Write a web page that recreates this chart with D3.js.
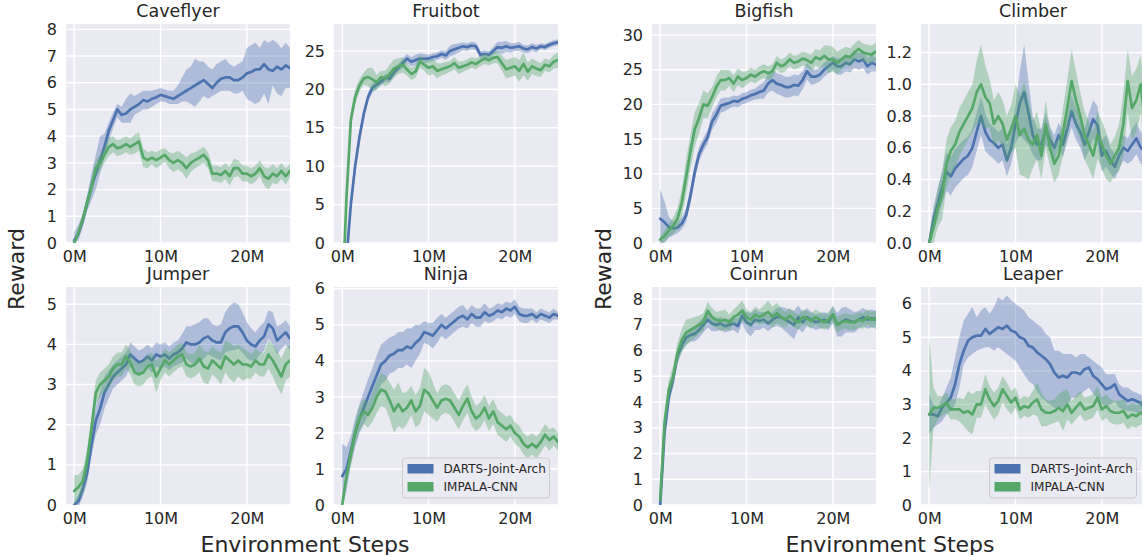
<!DOCTYPE html>
<html><head><meta charset="utf-8">
<script src="https://cdn.jsdelivr.net/npm/d3@7"></script>
<style>body{margin:0;background:#fff;} svg{display:block;font-family:"DejaVu Sans",sans-serif;}</style>
</head><body><svg id="c" width="1142" height="555"></svg>
<script>
// ---------------- DATA ----------------
const steps = [0,0.5,1,1.5,2,2.5,3,3.5,4,4.5,5,5.5,6,6.5,7,7.5,8,8.5,9,9.5,10,10.5,11,11.5,12,12.5,13,13.5,14,14.5,15,15.5,16,16.5,17,17.5,18,18.5,19,19.5,20,20.5,21,21.5,22,22.5,23,23.5,24,24.5,25];
const xTickValues = [0,10,20];
const seriesNames = ["DARTS-Joint-Arch","IMPALA-CNN"];
const envNames = ["Caveflyer","Fruitbot","Bigfish","Climber","Jumper","Ninja","Coinrun","Leaper"];

// Caveflyer
const caveflyerDartsMean = [0.1,0.35,0.85,1.5,2.1,2.6,3.1,3.6,4.2,4.6, 5.0,4.8,4.85,5.0,5.1,5.2,5.35,5.3,5.4,5.45, 5.55,5.5,5.45,5.4,5.5,5.6,5.7,5.8,5.9,6.0, 6.1,5.95,5.8,6.0,6.15,6.2,6.2,6.1,6.1,6.2, 6.35,6.4,6.5,6.5,6.7,6.5,6.45,6.6,6.5,6.65, 6.55];
const caveflyerDartsHi = [0.4,0.7,1.1,1.8,2.6,3.3,4.0,4.1,4.5,4.9, 5.2,5.1,5.4,5.6,5.5,5.6,5.7,5.7,5.7,5.75, 5.8,5.75,5.7,5.7,5.9,6.2,6.5,6.6,6.9,6.8, 6.8,6.6,6.5,6.7,6.8,6.9,6.7,6.6,6.7,6.8, 7.3,7.4,7.5,7.3,7.6,7.5,7.6,7.5,7.3,7.5, 7.3];
const caveflyerDartsLo = [0,0.1,0.6,1.2,1.6,2.0,2.6,3.2,3.8,4.3, 4.7,4.5,4.5,4.5,4.8,4.9,5.0,5.0,5.1,5.2, 5.3,5.3,5.2,5.2,5.2,5.3,5.3,5.2,5.1,5.3, 5.5,5.4,5.5,5.6,5.7,5.7,5.7,5.6,5.6,5.7, 5.4,5.3,5.2,5.3,5.6,5.2,5.9,5.6,5.5,5.8, 5.8];
const caveflyerImpalaMean = [0.0,0.4,0.9,1.5,2.1,2.8,3.0,3.3,3.6,3.7, 3.55,3.6,3.7,3.6,3.7,3.8,3.2,3.1,3.2,3.1, 3.2,3.3,3.1,3.0,3.1,3.0,2.8,3.0,3.1,3.2, 3.3,3.1,2.6,2.6,2.55,2.7,2.5,2.8,2.8,2.6, 2.6,2.5,2.6,2.8,2.5,2.4,2.6,2.5,2.7,2.5, 2.7];
const caveflyerImpalaErr = [0.1,0.15,0.2,0.25,0.3,0.3,0.3,0.3,0.35,0.3, 0.3,0.3,0.3,0.3,0.35,0.35,0.35,0.3,0.25,0.3, 0.3,0.25,0.3,0.35,0.35,0.35,0.4,0.35,0.3,0.3, 0.3,0.3,0.3,0.3,0.3,0.3,0.35,0.35,0.3,0.3, 0.3,0.3,0.3,0.3,0.35,0.4,0.35,0.3,0.3,0.3, 0.25];

// Fruitbot
const fruitbotDartsMean = [-15,-2,5,10,13.8,16.8,19.0,20.2,20.6,21.0, 21.5,21.4,22.2,22.8,23.4,24.0,23.6,23.8,24.0,24.0, 24.0,24.2,24.3,24.6,24.4,25.0,25.2,25.4,25.6,25.5, 25.7,25.6,24.5,24.6,24.5,25.0,25.5,25.4,25.6,25.4, 25.5,25.6,25.3,25.2,25.5,25.3,25.6,25.5,25.8,26.0, 26.1];
const fruitbotDartsErr = [1,1,1,0.8,0.7,0.6,0.6,0.6,0.6,0.5, 0.5,0.5,0.5,0.5,0.6,0.6,0.6,0.7,0.7,0.6, 0.5,0.5,0.5,0.5,0.6,0.7,0.7,0.6,0.5,0.5, 0.5,0.5,0.5,0.5,0.5,0.5,0.7,0.8,0.7,0.6, 0.5,0.6,0.5,0.5,0.5,0.5,0.4,0.4,0.4,0.4, 0.4];
const fruitbotImpalaMean = [-8,6,16,19,20.5,21.4,21.6,21.3,20.9,21.6, 21.4,22.0,22.7,23.0,23.2,22.6,22.0,22.3,23.6,23.2, 22.8,23.0,22.4,22.6,22.8,23.0,23.4,22.8,23.0,23.2, 23.5,23.3,23.7,24.0,23.8,24.1,24.2,23.4,22.6,22.8, 23.0,22.4,23.3,22.3,23.0,22.7,22.5,23.2,23.0,23.6, 23.8];
const fruitbotImpalaErr = [1,1,1,1,0.8,0.8,1.2,1.5,1.0,0.8, 1.0,1.2,1.2,1.0,1.0,0.8,0.8,0.8,0.8,0.8, 1.0,1.0,1.0,0.8,0.8,0.7,0.8,0.8,0.7,0.7, 0.7,0.7,0.7,0.7,0.7,0.7,0.8,1.0,1.2,1.2, 1.2,1.4,1.5,1.2,1.0,1.0,0.9,0.8,0.8,0.9, 1.0];

// Bigfish
const bigfishDartsMean = [3.5,3.0,2.3,2.1,2.2,2.8,4.0,6.8,10.2,12.8, 14.2,15.3,17.5,18.5,19.8,20.0,20.2,20.5,20.4,20.8, 21.0,21.3,21.5,21.8,22.0,23.0,23.5,23.0,22.8,22.5, 22.5,22.8,22.7,23.5,24.8,24.0,24.0,24.3,25.0,25.5, 26.0,25.5,25.5,26.0,25.8,26.5,26.2,26.5,25.5,26.0, 25.7];
const bigfishDartsErr = [4.3,3.0,1.5,1.0,0.8,0.8,1.0,1.2,1.2,1.0, 1.0,1.0,1.2,1.2,1.0,1.0,0.8,0.8,0.8,0.8, 0.8,0.8,0.8,1.0,1.2,1.3,1.5,1.5,1.5,1.5, 1.5,1.5,1.5,1.3,1.2,1.2,1.0,1.0,1.0,1.0, 1.0,1.2,1.2,1.2,1.2,1.2,1.2,1.2,1.2,1.2, 1.0];
const bigfishImpalaMean = [0.5,1.0,1.8,2.5,3.5,5.8,9.5,13.2,16.4,18.0, 20.0,19.8,21.0,22.5,23.5,23.5,23.8,23.0,24.0,23.5, 23.8,24.3,24.0,24.5,24.8,24.5,24.8,26.0,25.5,25.8, 26.5,26.0,26.2,26.6,26.4,26.0,26.8,26.5,27.0,26.5, 26.5,26.0,26.5,27.0,26.8,27.5,28.0,27.5,27.3,27.2, 27.6];
const bigfishImpalaErr = [0.5,0.8,1.0,1.2,1.5,2.0,2.5,2.5,2.5,2.2, 2.0,1.8,1.5,1.5,1.5,1.5,1.2,1.2,1.2,1.2, 1.0,1.0,1.0,1.0,1.0,1.0,1.0,1.0,1.0,1.0, 1.0,1.0,1.0,1.0,1.0,1.2,1.2,1.3,1.5,2.0, 1.8,1.6,1.5,1.3,1.3,1.3,1.3,1.3,1.3,1.3, 1.3];

// Climber
const climberDartsMean = [0.0,0.15,0.25,0.35,0.45,0.42,0.47,0.50,0.53,0.55, 0.60,0.70,0.80,0.70,0.65,0.63,0.60,0.62,0.52,0.60, 0.75,0.88,0.95,0.82,0.68,0.62,0.62,0.72,0.65,0.60, 0.68,0.62,0.72,0.83,0.75,0.70,0.62,0.70,0.78,0.74, 0.55,0.58,0.52,0.48,0.55,0.60,0.58,0.62,0.66,0.60, 0.58];
const climberDartsErr = [0.05,0.08,0.1,0.1,0.12,0.12,0.12,0.12,0.12,0.12, 0.12,0.12,0.12,0.12,0.1,0.1,0.1,0.1,0.1,0.1, 0.12,0.2,0.3,0.2,0.12,0.1,0.1,0.1,0.08,0.08, 0.08,0.08,0.08,0.1,0.1,0.1,0.1,0.12,0.12,0.12, 0.1,0.1,0.08,0.08,0.08,0.08,0.08,0.1,0.1,0.1, 0.1];
const climberImpalaMean = [0.0,0.1,0.22,0.3,0.5,0.58,0.62,0.70,0.75,0.80, 0.85,0.95,1.00,0.92,0.88,0.75,0.80,0.75,0.65,0.72, 0.80,0.68,0.72,0.65,0.62,0.68,0.55,0.75,0.60,0.50, 0.55,0.70,0.85,1.02,0.90,0.80,0.68,0.62,0.55,0.68, 0.62,0.55,0.50,0.55,0.60,0.75,1.02,0.85,0.90,1.00, 0.75];
const climberImpalaErr = [0.05,0.1,0.12,0.15,0.15,0.15,0.15,0.15,0.15,0.15, 0.15,0.2,0.25,0.2,0.15,0.15,0.15,0.15,0.15,0.15, 0.2,0.25,0.3,0.25,0.15,0.15,0.15,0.15,0.12,0.12, 0.12,0.15,0.18,0.2,0.18,0.15,0.15,0.15,0.15,0.15, 0.15,0.15,0.12,0.12,0.15,0.2,0.2,0.2,0.2,0.18, 0.18];

// Jumper
const jumperDartsMean = [0.0,0.1,0.4,0.8,1.5,2.1,2.4,2.8,3.0,3.2, 3.3,3.4,3.5,3.75,3.65,3.55,3.6,3.7,3.6,3.75, 3.7,3.75,3.65,3.75,3.8,3.9,4.05,4.0,4.0,4.05, 4.15,4.2,4.1,4.05,4.05,4.3,4.4,4.45,4.45,4.3, 4.1,4.0,3.95,4.1,4.2,4.5,4.4,4.1,4.2,4.3, 4.15];
const jumperDartsErr = [0.1,0.15,0.2,0.25,0.3,0.35,0.4,0.4,0.35,0.3, 0.3,0.3,0.3,0.3,0.3,0.3,0.3,0.3,0.3,0.3, 0.3,0.3,0.3,0.3,0.3,0.35,0.4,0.45,0.5,0.5, 0.5,0.45,0.4,0.4,0.45,0.5,0.55,0.6,0.55,0.5, 0.45,0.4,0.35,0.35,0.35,0.35,0.4,0.35,0.3,0.3, 0.3];
const jumperImpalaMean = [0.35,0.45,0.6,1.1,1.9,2.8,3.0,3.1,3.2,3.4, 3.5,3.5,3.7,3.55,3.3,3.25,3.3,3.45,3.5,3.2, 3.4,3.6,3.5,3.6,3.7,3.75,3.5,3.45,3.5,3.65, 3.45,3.4,3.6,3.5,3.4,3.7,3.6,3.5,3.6,3.5, 3.5,3.45,3.6,3.5,3.5,3.75,3.6,3.4,3.2,3.5, 3.6];
const jumperImpalaErr = [0.4,0.3,0.3,0.3,0.3,0.3,0.3,0.3,0.3,0.3, 0.3,0.3,0.3,0.3,0.3,0.3,0.3,0.3,0.3,0.4, 0.3,0.3,0.3,0.3,0.3,0.3,0.3,0.3,0.3,0.35, 0.4,0.4,0.35,0.35,0.4,0.4,0.45,0.45,0.4,0.4, 0.35,0.3,0.3,0.3,0.3,0.35,0.4,0.45,0.45,0.4, 0.4];

// Ninja
const ninjaDartsMean = [0.8,1.0,1.5,2.0,2.4,2.7,3.0,3.3,3.6,3.9, 4.0,4.15,4.2,4.3,4.3,4.4,4.35,4.5,4.6,4.8, 4.75,4.7,4.85,5.0,4.9,5.0,5.1,5.2,5.25,5.15, 5.3,5.2,5.2,5.35,5.25,5.3,5.4,5.35,5.45,5.4, 5.5,5.3,5.25,5.25,5.3,5.2,5.3,5.25,5.2,5.3, 5.25];
const ninjaDartsErr = [0.9,0.6,0.4,0.4,0.4,0.45,0.5,0.5,0.55,0.55, 0.55,0.5,0.5,0.5,0.5,0.5,0.55,0.5,0.4,0.3, 0.3,0.35,0.35,0.3,0.3,0.3,0.3,0.3,0.3,0.25, 0.25,0.25,0.25,0.25,0.2,0.2,0.2,0.2,0.2,0.2, 0.2,0.2,0.2,0.2,0.15,0.15,0.15,0.15,0.15,0.15, 0.1];
const ninjaImpalaMean = [0.0,0.8,1.4,2.0,2.4,2.6,2.5,2.7,3.0,3.2, 3.15,2.9,2.6,2.8,2.6,2.7,2.9,2.6,2.75,3.2, 3.1,2.9,2.7,2.9,2.95,2.9,2.7,2.5,2.75,2.95, 2.6,2.4,2.5,2.7,2.4,2.6,2.3,2.2,2.1,2.2, 2.0,1.9,1.7,1.6,1.7,1.6,1.75,1.95,1.8,1.9, 1.75];
const ninjaImpalaErr = [0.1,0.2,0.3,0.3,0.35,0.35,0.35,0.4,0.45,0.45, 0.45,0.5,0.6,0.6,0.5,0.45,0.4,0.45,0.5,0.6, 0.6,0.5,0.4,0.4,0.4,0.4,0.4,0.4,0.4,0.4, 0.4,0.35,0.35,0.35,0.35,0.35,0.35,0.35,0.35,0.3, 0.3,0.3,0.3,0.3,0.3,0.3,0.3,0.3,0.3,0.25, 0.25];

// Coinrun
const coinrunDartsMean = [0,2.8,4.2,4.9,5.8,6.2,6.5,6.6,6.65,6.8, 7.0,7.2,7.05,7.0,7.05,6.95,7.0,7.05,6.95,7.35, 7.1,7.0,7.2,7.15,7.2,7.05,7.2,7.3,7.3,7.2, 7.1,7.0,7.3,7.1,7.3,7.2,7.1,7.15,7.2,7.1, 7.4,7.0,7.1,7.2,7.15,7.1,7.2,7.3,7.2,7.25, 7.2];
const coinrunDartsErr = [0.2,0.3,0.3,0.3,0.3,0.25,0.25,0.25,0.3,0.3, 0.3,0.3,0.3,0.25,0.25,0.25,0.25,0.25,0.3,0.3, 0.4,0.45,0.4,0.35,0.3,0.3,0.3,0.35,0.4,0.45, 0.5,0.55,0.45,0.4,0.35,0.3,0.3,0.3,0.3,0.3, 0.35,0.45,0.55,0.5,0.45,0.4,0.35,0.35,0.35,0.35, 0.35];
const coinrunImpalaMean = [0.2,3.2,4.5,5.0,5.9,6.4,6.7,6.8,6.9,7.0, 7.1,7.55,7.3,7.2,7.15,7.2,7.1,7.3,7.4,7.55, 7.3,7.2,7.4,7.3,7.4,7.5,7.3,7.45,7.3,7.2, 7.35,7.2,7.1,7.3,7.25,7.15,7.3,7.2,7.1,7.2, 7.4,7.0,7.1,7.15,7.1,7.1,7.2,7.15,7.3,7.2, 7.25];
const coinrunImpalaErr = [0.2,0.3,0.4,0.4,0.4,0.45,0.5,0.45,0.4,0.35, 0.35,0.35,0.35,0.3,0.4,0.4,0.3,0.3,0.35,0.4, 0.3,0.3,0.3,0.3,0.35,0.45,0.4,0.4,0.35,0.3, 0.3,0.3,0.3,0.3,0.3,0.3,0.3,0.3,0.3,0.3, 0.3,0.3,0.3,0.3,0.3,0.3,0.3,0.3,0.3,0.3, 0.3];

// Leaper
const leaperDartsMean = [2.7,2.7,2.65,2.9,3.05,3.2,3.6,4.2,4.6,4.9, 5.0,5.05,5.05,5.25,5.1,5.2,5.3,5.25,5.35,5.2, 5.15,5.0,4.95,4.75,4.7,4.55,4.45,4.35,4.2,3.95, 3.8,3.85,3.8,3.95,3.95,3.9,4.05,4.1,3.85,3.75, 3.6,3.45,3.5,3.6,3.3,3.2,3.1,3.15,3.1,3.05, 2.85];
const leaperDartsHi = [3.3,3.0,2.9,3.2,3.5,3.8,4.4,5.0,5.5,5.7, 5.9,5.6,5.8,5.9,5.7,5.9,6.2,6.1,6.25,6.1, 6.0,5.9,5.8,5.6,5.5,5.4,5.3,5.1,5.0,4.6, 4.6,4.5,4.5,4.5,4.4,4.5,4.5,4.4,4.3,4.2, 4.1,3.9,3.9,3.9,3.6,3.5,3.5,3.4,3.35,3.3, 3.1];
const leaperDartsLo = [2.1,2.3,2.4,2.5,2.7,2.8,3.0,3.5,4.2,4.4, 4.5,4.6,4.65,4.7,4.7,4.6,4.7,4.6,4.5,4.4, 4.3,4.1,3.9,3.7,3.6,3.4,3.2,3.1,3.0,2.9, 2.9,2.9,3.0,3.2,3.2,3.3,3.4,3.5,3.3,3.2, 3.0,2.95,3.0,3.1,2.9,2.85,2.8,2.8,2.75,2.7, 2.55];
const leaperImpalaMean = [2.7,2.9,2.9,2.95,3.05,2.85,2.85,2.85,2.75,2.8, 2.7,3.0,3.0,3.45,3.15,2.95,3.1,3.45,3.25,3.05, 3.2,2.85,2.95,2.9,3.05,3.15,2.85,2.75,2.75,2.8, 2.9,2.8,3.0,2.75,2.9,3.05,2.85,2.9,2.95,3.2, 2.85,2.95,2.8,2.75,2.75,2.8,2.6,2.7,2.65,2.75, 2.7];
const leaperImpalaErr = [2.3,0.6,0.35,0.3,0.3,0.3,0.3,0.35,0.4,0.6, 0.6,0.4,0.4,0.45,0.4,0.4,0.4,0.4,0.4,0.35, 0.3,0.3,0.3,0.3,0.35,0.5,0.5,0.4,0.35,0.35, 0.4,0.6,0.45,0.35,0.35,0.35,0.35,0.35,0.35,0.35, 0.35,0.35,0.35,0.35,0.35,0.35,0.35,0.35,0.35,0.35, 0.35];

// y tick labels per panel
const caveflyerTicks = [0,1,2,3,4,5,6,7,8];
const fruitbotTicks = [0,5,10,15,20,25];
const bigfishTicks = [0,5,10,15,20,25,30];
const climberTicks = [0,0.2,0.4,0.6,0.8,1.0,1.2];
const jumperTicks = [0,1,2,3,4,5];
const ninjaTicks = [0,1,2,3,4,5,6];
const coinrunTicks = [0,1,2,3,4,5,6,7,8];
const leaperTicks = [0,1,2,3,4,5,6];
const yMaxes = [8.2, 28.5, 31.6, 1.38, 5.43, 6.05, 8.47, 6.5];

// ---------------- DRAW ----------------
const COLORS = ["#4C72B0", "#55A868"];
const TEXT = "#262626";
const svg = d3.select("#c");
const defs = svg.append("defs");

const colX = [66, 334, 652, 921];
const rowY = [24, 287];
const rowH = [219, 218];
const PW = 224;

const panels = [
  {name:envNames[0], col:0,row:0, ticks:caveflyerTicks, ymax:yMaxes[0], fmt:d3.format("d"),
   s:[{mean:caveflyerDartsMean, lo:caveflyerDartsLo, hi:caveflyerDartsHi},{mean:caveflyerImpalaMean, err:caveflyerImpalaErr}]},
  {name:envNames[1], col:1,row:0, ticks:fruitbotTicks, ymax:yMaxes[1], fmt:d3.format("d"),
   s:[{mean:fruitbotDartsMean, err:fruitbotDartsErr},{mean:fruitbotImpalaMean, err:fruitbotImpalaErr}]},
  {name:envNames[2], col:2,row:0, ticks:bigfishTicks, ymax:yMaxes[2], fmt:d3.format("d"),
   s:[{mean:bigfishDartsMean, err:bigfishDartsErr},{mean:bigfishImpalaMean, err:bigfishImpalaErr}]},
  {name:envNames[3], col:3,row:0, ticks:climberTicks, ymax:yMaxes[3], fmt:d3.format(".1f"),
   s:[{mean:climberDartsMean, err:climberDartsErr},{mean:climberImpalaMean, err:climberImpalaErr}]},
  {name:envNames[4], col:0,row:1, ticks:jumperTicks, ymax:yMaxes[4], fmt:d3.format("d"),
   s:[{mean:jumperDartsMean, err:jumperDartsErr},{mean:jumperImpalaMean, err:jumperImpalaErr}]},
  {name:envNames[5], col:1,row:1, ticks:ninjaTicks, ymax:yMaxes[5], fmt:d3.format("d"), legend:true,
   s:[{mean:ninjaDartsMean, err:ninjaDartsErr},{mean:ninjaImpalaMean, err:ninjaImpalaErr}]},
  {name:envNames[6], col:2,row:1, ticks:coinrunTicks, ymax:yMaxes[6], fmt:d3.format("d"),
   s:[{mean:coinrunDartsMean, err:coinrunDartsErr},{mean:coinrunImpalaMean, err:coinrunImpalaErr}]},
  {name:envNames[7], col:3,row:1, ticks:leaperTicks, ymax:yMaxes[7], fmt:d3.format("d"), legend:true,
   s:[{mean:leaperDartsMean, lo:leaperDartsLo, hi:leaperDartsHi},{mean:leaperImpalaMean, err:leaperImpalaErr}]}
];

panels.forEach((p, pi) => {
  const x0 = colX[p.col], y0 = rowY[p.row], H = rowH[p.row];
  const g = svg.append("g").attr("transform", `translate(${x0},${y0})`);
  const x = d3.scaleLinear().domain([-0.95, 25]).range([0, PW]);
  const y = d3.scaleLinear().domain([0, p.ymax]).range([H, 0]);

  g.append("rect").attr("width", PW).attr("height", H).attr("fill", "#EAEAF2");

  // grid
  g.selectAll(".gx").data(xTickValues).join("line")
    .attr("x1", d => x(d)).attr("x2", d => x(d)).attr("y1", 0).attr("y2", H)
    .attr("stroke", "#fff").attr("stroke-width", 1.4);
  g.selectAll(".gy").data(p.ticks).join("line")
    .attr("x1", 0).attr("x2", PW).attr("y1", d => y(d)).attr("y2", d => y(d))
    .attr("stroke", "#fff").attr("stroke-width", 1.4);

  const cid = "clip" + pi;
  defs.append("clipPath").attr("id", cid).append("rect").attr("width", PW).attr("height", H);
  const plot = g.append("g").attr("clip-path", `url(#${cid})`);

  p.s.forEach((s, si) => {
    const lo = s.lo || s.mean.map((m, i) => m - s.err[i]);
    const hi = s.hi || s.mean.map((m, i) => m + s.err[i]);
    const area = d3.area().x((d, i) => x(steps[i])).y0((d, i) => y(lo[i])).y1((d, i) => y(hi[i]));
    plot.append("path").datum(s.mean).attr("d", area)
      .attr("fill", COLORS[si]).attr("fill-opacity", 0.38).attr("stroke", "none");
    const line = d3.line().x((d, i) => x(steps[i])).y(d => y(d));
    plot.append("path").datum(s.mean).attr("d", line)
      .attr("fill", "none").attr("stroke", COLORS[si]).attr("stroke-width", 2.7)
      .attr("stroke-linejoin", "round").attr("stroke-linecap", "round");
  });

  // axes
  const ay = g.append("g").call(d3.axisLeft(y).tickValues(p.ticks).tickFormat(p.fmt).tickSize(0).tickPadding(9));
  const ax = g.append("g").attr("transform", `translate(0,${H})`)
    .call(d3.axisBottom(x).tickValues(xTickValues).tickFormat(d => d + "M").tickSize(0).tickPadding(8));
  [ax, ay].forEach(a => {
    a.select(".domain").remove();
    a.selectAll("text").attr("font-size", 16).attr("fill", TEXT).attr("font-family", "DejaVu Sans, sans-serif");
  });

  g.append("text").attr("x", PW / 2).attr("y", -7).attr("text-anchor", "middle")
    .attr("font-size", 17.5).attr("fill", TEXT).text(p.name);

  if (p.legend) {
    const lx = PW - 155.5, ly = H - 47;
    const lg = g.append("g").attr("transform", `translate(${lx},${ly})`);
    lg.append("rect").attr("width", 147).attr("height", 40).attr("rx", 3)
      .attr("fill", "#EAEAF2").attr("fill-opacity", 0.85).attr("stroke", "#cccccc").attr("stroke-width", 1);
    seriesNames.forEach((n, i) => {
      lg.append("rect").attr("x", 5).attr("y", 6 + i * 18).attr("width", 26).attr("height", 9.5).attr("fill", COLORS[i]);
      lg.append("text").attr("x", 41).attr("y", 15 + i * 18).attr("font-size", 12).attr("fill", TEXT).text(n);
    });
  }
});

// figure-level labels
[16, 603].forEach(cx => {
  svg.append("text").attr("transform", `translate(${cx + 8},269) rotate(-90)`)
    .attr("text-anchor", "middle").attr("font-size", 22).attr("fill", TEXT).text("Reward");
});
[305, 890].forEach(cx => {
  svg.append("text").attr("x", cx).attr("y", 552).attr("text-anchor", "middle")
    .attr("font-size", 22).attr("fill", TEXT).text("Environment Steps");
});
</script>
</body></html>
